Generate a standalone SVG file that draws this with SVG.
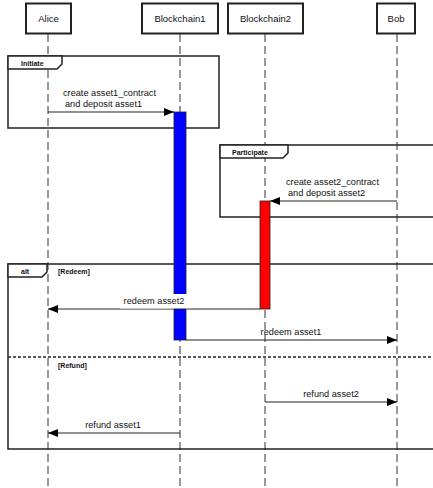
<svg xmlns="http://www.w3.org/2000/svg" width="433" height="488" viewBox="0 0 433 488">
<style>
.head{fill:#fff;stroke:#222;stroke-width:2}
.ht{font-family:"Liberation Sans",Arial,sans-serif;font-size:9.5px;fill:#111;text-anchor:middle}
.life{stroke:#333;stroke-width:1;stroke-dasharray:8 4;fill:none}
.frame{fill:none;stroke:#222;stroke-width:1.5}
.tab{fill:#fff;stroke:#222;stroke-width:1.5}
.ft{font-family:"Liberation Sans",Arial,sans-serif;font-size:7px;font-weight:bold;fill:#111}
.msg{stroke:#222;stroke-width:1;fill:none;marker-end:url(#ah)}
.mt{font-family:"Liberation Sans",Arial,sans-serif;font-size:9.2px;fill:#111;text-anchor:middle}
.ml{font-family:"Liberation Sans",Arial,sans-serif;font-size:9.2px;fill:#111}
</style>
<defs>
<marker id="ah" viewBox="0 0 10 8" refX="10" refY="4" markerWidth="10" markerHeight="8" markerUnits="userSpaceOnUse" orient="auto">
<path d="M0,0 L10,4 L0,8 Z" fill="#000"/>
</marker>
</defs>
<rect width="433" height="488" fill="#fff"/>
<g id="lifelines">
<line class="life" x1="48" y1="34" x2="48" y2="488"/>
<line class="life" x1="180" y1="34" x2="180" y2="488"/>
<line class="life" x1="265" y1="34" x2="265" y2="488"/>
<line class="life" x1="397" y1="34" x2="397" y2="488"/>
</g>
<g id="alice"><rect class="head" x="26" y="3.5" width="45" height="30"/><text class="ht" x="48.5" y="22">Alice</text></g>
<g id="blockchain1"><rect class="head" x="142" y="3.5" width="76" height="30"/><text class="ht" x="180" y="22">Blockchain1</text></g>
<g id="blockchain2"><rect class="head" x="228" y="3.5" width="75" height="30"/><text class="ht" x="265.5" y="22">Blockchain2</text></g>
<g id="bob"><rect class="head" x="377" y="3.5" width="38" height="30"/><text class="ht" x="396" y="22">Bob</text></g>
<g id="frame-initiate">
<rect class="frame" x="8" y="56" width="211" height="72"/>
<path class="tab" d="M8,56 H62 V64 L57,69 H8 Z"/>
<text class="ft" x="21" y="65.5">Initiate</text>
</g>
<g id="frame-participate">
<rect class="frame" x="220" y="145" width="220" height="72"/>
<path class="tab" d="M220,145 H288 V153 L283,158 H220 Z"/>
<text class="ft" x="232" y="154.5">Participate</text>
</g>
<g id="frame-alt">
<rect class="frame" x="8" y="264" width="432" height="185"/>
<path class="tab" d="M8,264 H47 V272 L42,277 H8 Z"/>
<text class="ft" x="21" y="273.5">alt</text>
<text class="ft" x="58" y="273.5">[Redeem]</text>
<line x1="8" y1="357" x2="433" y2="357" stroke="#222" stroke-width="1.5" stroke-dasharray="3 2"/>
<text class="ft" x="58" y="367.5">[Refund]</text>
</g>
<g id="activation-blockchain1"><rect x="174" y="112" width="12" height="228" fill="#0000ff" stroke="#222" stroke-width="0.8"/></g>
<g id="activation-blockchain2"><rect x="260" y="201" width="10" height="108" fill="#ff0000" stroke="#222" stroke-width="0.8"/></g>
<g id="connectors">
<line class="msg" x1="48" y1="112" x2="174" y2="112"/>
<text class="ml" x="63" y="96">create asset1_contract</text>
<text class="ml" x="65" y="107">and deposit asset1</text>
<line class="msg" x1="397" y1="201" x2="270" y2="201"/>
<text class="ml" x="286" y="185">create asset2_contract</text>
<text class="ml" x="288" y="196">and deposit asset2</text>
<line class="msg" x1="260" y1="309" x2="48" y2="309"/>
<rect x="120" y="294" width="68" height="14.5" fill="#fff"/>
<text class="mt" x="154" y="304">redeem asset2</text>
<line class="msg" x1="186" y1="340" x2="397" y2="340"/>
<text class="mt" x="291" y="335">redeem asset1</text>
<line class="msg" x1="265" y1="402" x2="397" y2="402"/>
<text class="mt" x="331" y="397">refund asset2</text>
<line class="msg" x1="180" y1="433" x2="48" y2="433"/>
<text class="mt" x="113" y="428">refund asset1</text>
</g>
</svg>
